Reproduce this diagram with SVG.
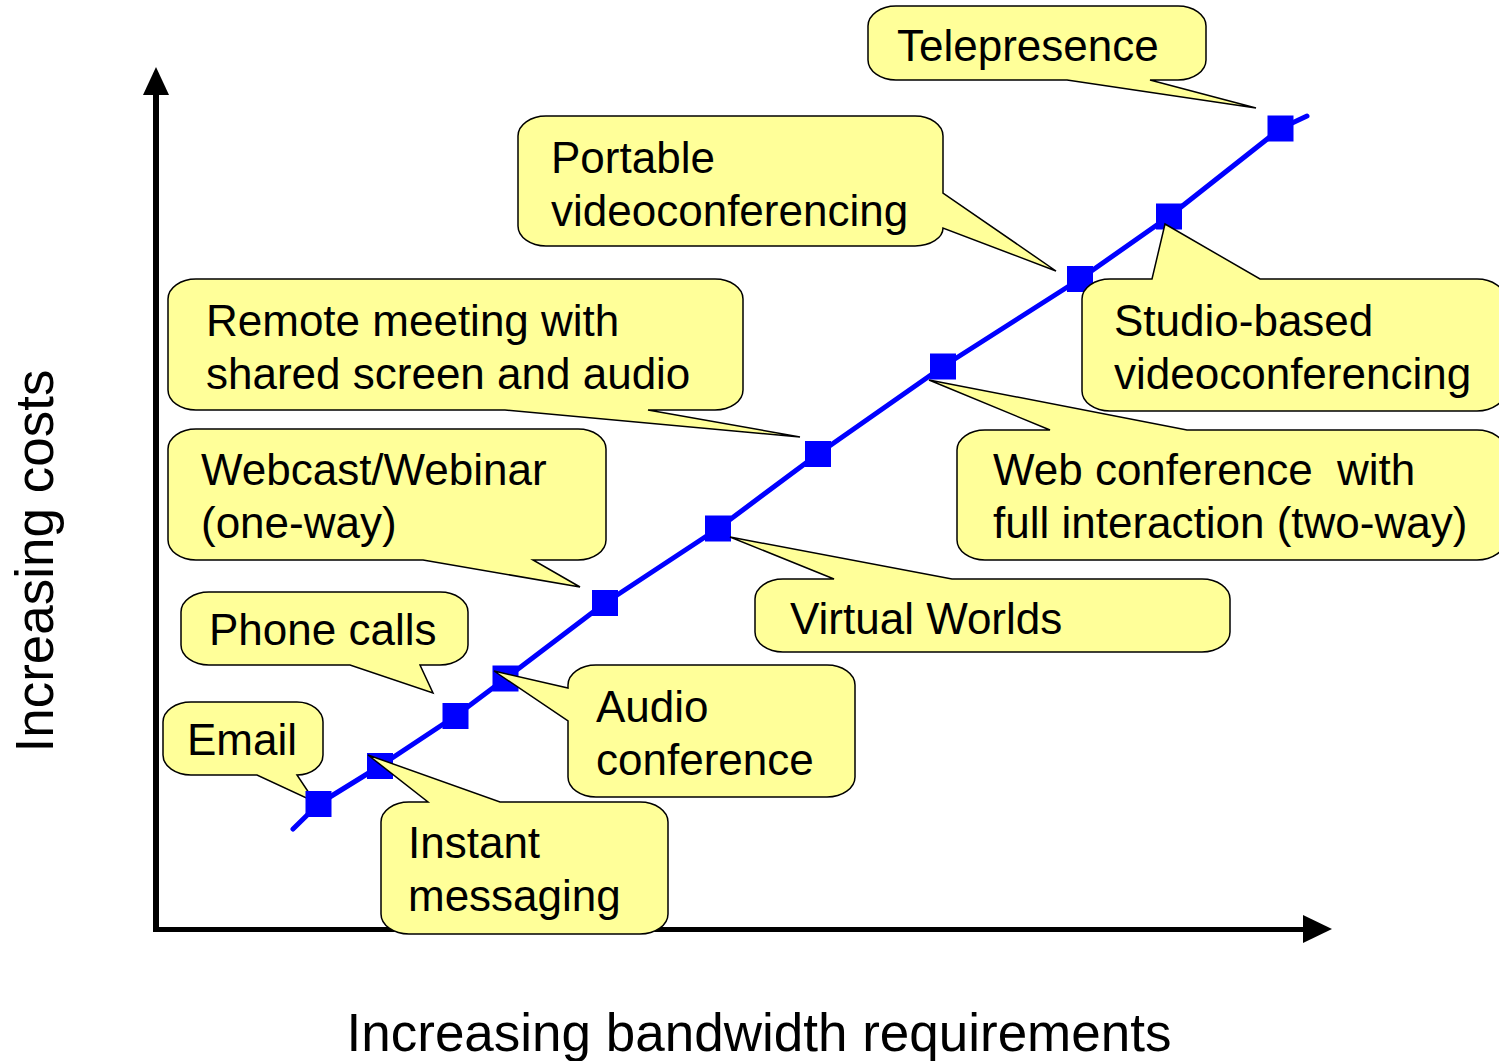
<svg xmlns="http://www.w3.org/2000/svg" width="1499" height="1061" viewBox="0 0 1499 1061">
<style>
.co{fill:#FFFF99;stroke:#000;stroke-width:1.5;stroke-linejoin:miter}
.t{font-family:"Liberation Sans",Arial,sans-serif;font-size:44px;fill:#000}
.ax{font-family:"Liberation Sans",Arial,sans-serif;font-size:53px;fill:#000}
.mk{fill:#0000FF}
</style>
<rect width="1499" height="1061" fill="#fff"/>
<g id="axes">
<line x1="156" y1="932" x2="156" y2="92" stroke="#000" stroke-width="6"/>
<polygon points="156,67 143,95 169,95" fill="#000"/>
<line x1="153" y1="929.5" x2="1306" y2="929.5" stroke="#000" stroke-width="5"/>
<polygon points="1332,929 1303,915 1303,943" fill="#000"/>
<text class="ax" x="759" y="1051" text-anchor="middle">Increasing bandwidth requirements</text>
<text class="ax" transform="translate(53,561) rotate(-90)" text-anchor="middle">Increasing costs</text>
</g>
<g id="email">
<path class="co" d="M191,702 H297 A26,20 0 0 1 323,722 V755 A26,20 0 0 1 297,775 L315,802 L257,775 H191 A28,20 0 0 1 163,755 V722 A28,20 0 0 1 191,702 Z"/>
<text class="t" x="187" y="755">Email</text>
</g>
<g id="connectors">
<polyline points="293,829 318.5,804 380,766 455.5,716 505.5,678.5 605,603 718,528.5 818,454 943,366.5 1080,279 1169,216.5 1280.5,128.5 1307,116" fill="none" stroke="#0000FF" stroke-width="5" stroke-linecap="round" stroke-linejoin="round"/>
<rect class="mk" x="305.5" y="791" width="26" height="26"/>
<rect class="mk" x="367" y="753" width="26" height="26"/>
<rect class="mk" x="442.5" y="703" width="26" height="26"/>
<rect class="mk" x="492.5" y="665.5" width="26" height="26"/>
<rect class="mk" x="592" y="590" width="26" height="26"/>
<rect class="mk" x="705" y="515.5" width="26" height="26"/>
<rect class="mk" x="805" y="441" width="26" height="26"/>
<rect class="mk" x="930" y="353.5" width="26" height="26"/>
<rect class="mk" x="1067" y="266" width="26" height="26"/>
<rect class="mk" x="1156" y="203.5" width="26" height="26"/>
<rect class="mk" x="1267.5" y="115.5" width="26" height="26"/>
</g>
<g id="telepresence">
<path class="co" d="M896,6 H1178 A28,20 0 0 1 1206,26 V60 A28,20 0 0 1 1178,80 H1150 L1256,108 L1067,80 H896 A28,20 0 0 1 868,60 V26 A28,20 0 0 1 896,6 Z"/>
<text class="t" x="897" y="61">Telepresence</text>
</g>
<g id="portable">
<path class="co" d="M546,116 H915 A28,20 0 0 1 943,136 V193 L1056,271 L943,228 A28,18 0 0 1 915,246 H546 A28,20 0 0 1 518,226 V136 A28,20 0 0 1 546,116 Z"/>
<text class="t" x="551" y="173">Portable</text>
<text class="t" x="551" y="226">videoconferencing</text>
</g>
<g id="remote">
<path class="co" d="M196,279 H715 A28,20 0 0 1 743,299 V390 A28,20 0 0 1 715,410 H648 L800,437 L505,410 H196 A28,20 0 0 1 168,390 V299 A28,20 0 0 1 196,279 Z"/>
<text class="t" x="206" y="336">Remote meeting with</text>
<text class="t" x="206" y="389">shared screen and audio</text>
</g>
<g id="webcast">
<path class="co" d="M196,429 H578 A28,20 0 0 1 606,449 V540 A28,20 0 0 1 578,560 H533 L580,587 L423,560 H196 A28,20 0 0 1 168,540 V449 A28,20 0 0 1 196,429 Z"/>
<text class="t" x="201" y="485">Webcast/Webinar</text>
<text class="t" x="201" y="538">(one-way)</text>
</g>
<g id="phone">
<path class="co" d="M209,592 H440 A28,20 0 0 1 468,612 V645 A28,20 0 0 1 440,665 H420 L433,693 L350,665 H209 A28,20 0 0 1 181,645 V612 A28,20 0 0 1 209,592 Z"/>
<text class="t" x="209" y="645">Phone calls</text>
</g>
<g id="instant">
<path class="co" d="M409,802 H428 L368,755 L500,802 H640 A28,20 0 0 1 668,822 V914 A28,20 0 0 1 640,934 H409 A28,20 0 0 1 381,914 V822 A28,20 0 0 1 409,802 Z"/>
<text class="t" x="408" y="858">Instant</text>
<text class="t" x="408" y="911">messaging</text>
</g>
<g id="audio">
<path class="co" d="M596,665 H827 A28,20 0 0 1 855,685 V777 A28,20 0 0 1 827,797 H596 A28,20 0 0 1 568,777 V721 L494,671 L568,688 V685 A28,20 0 0 1 596,665 Z"/>
<text class="t" x="596" y="722">Audio</text>
<text class="t" x="596" y="775">conference</text>
</g>
<g id="virtual">
<path class="co" d="M783,579 H834 L730,537 L952,579 H1202 A28,20 0 0 1 1230,599 V632 A28,20 0 0 1 1202,652 H783 A28,20 0 0 1 755,632 V599 A28,20 0 0 1 783,579 Z"/>
<text class="t" x="790" y="634">Virtual Worlds</text>
</g>
<g id="webconf">
<path class="co" d="M985,430 H1050 L929,380 L1187,430 H1477 A28,20 0 0 1 1505,450 V540 A28,20 0 0 1 1477,560 H985 A28,20 0 0 1 957,540 V450 A28,20 0 0 1 985,430 Z"/>
<text class="t" x="993" y="485" xml:space="preserve">Web conference  with</text>
<text class="t" x="993" y="538">full interaction (two-way)</text>
</g>
<g id="studio">
<path class="co" d="M1110,279 H1152 L1165,224 L1260,279 H1477 A28,20 0 0 1 1505,299 V391 A28,20 0 0 1 1477,411 H1110 A28,20 0 0 1 1082,391 V299 A28,20 0 0 1 1110,279 Z"/>
<text class="t" x="1114" y="336">Studio-based</text>
<text class="t" x="1114" y="389">videoconferencing</text>
</g>
</svg>
